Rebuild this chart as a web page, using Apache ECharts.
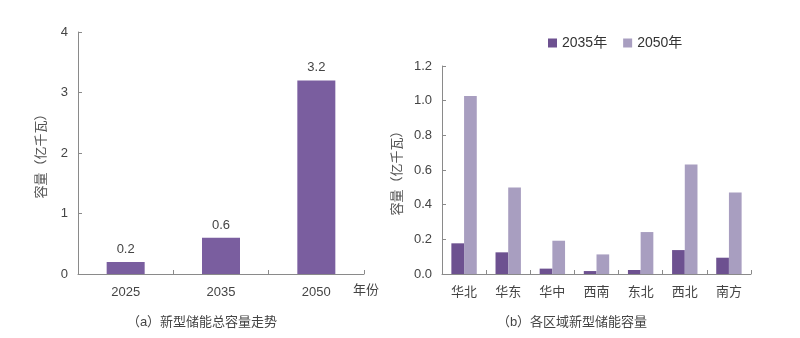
<!DOCTYPE html>
<html><head><meta charset="utf-8">
<script src="https://cdn.jsdelivr.net/npm/echarts@6/dist/echarts.min.js"></script>
<style>html,body{margin:0;padding:0;background:#fff}#c{width:800px;height:338px}</style>
</head><body><div id="c"></div>
<script>
const yearsA = ['2025', '2035', '2050'];
const totalA = [0.2, 0.6, 3.2];
const regionsB = ['华北', '华东', '华中', '西南', '东北', '西北', '南方'];
const s2035 = [0.177, 0.125, 0.031, 0.017, 0.023, 0.138, 0.094];
const s2050 = [1.027, 0.499, 0.192, 0.113, 0.242, 0.632, 0.470];
const seriesNames = ['2035年', '2050年'];
const yTitle = '容量（亿千瓦）';
const subA = '（a）新型储能总容量走势';
const subB = '（b）各区域新型储能容量';
const xNameA = '年份';

const FONT = '"Liberation Sans", "Noto Sans CJK SC", sans-serif';
const axisLine = {lineStyle: {color: '#8a8a8a', width: 1}};
const tick = {show: true, inside: true, length: 4, lineStyle: {color: '#8a8a8a'}};
const lbl = {color: '#444', fontSize: 13, fontFamily: FONT};

const chart = echarts.init(document.getElementById('c'), null, {renderer: 'canvas'});
chart.setOption({
  animation: false,
  textStyle: {fontFamily: FONT},
  legend: {
    data: seriesNames, left: 543, top: 31, itemWidth: 9, itemHeight: 9, itemGap: 16,
    icon: 'rect', textStyle: {color: '#333', fontSize: 14, fontFamily: FONT}
  },
  grid: [
    {left: 78, top: 32, width: 286, height: 242},
    {left: 442, top: 66, width: 309, height: 208}
  ],
  xAxis: [
    {type: 'category', gridIndex: 0, data: yearsA, axisLine, axisTick: {...tick},
     axisLabel: {...lbl, margin: 12}},
    {type: 'category', gridIndex: 1, data: regionsB, axisLine, axisTick: {...tick},
     axisLabel: {...lbl, margin: 12}}
  ],
  yAxis: [
    {type: 'value', gridIndex: 0, min: 0, max: 4, interval: 1, axisLine: {show: true, ...axisLine},
     axisTick: tick, splitLine: {show: false}, axisLabel: {...lbl, margin: 10},
     name: yTitle, nameLocation: 'middle', nameGap: 30, nameRotate: 90,
     nameTextStyle: {color: '#555', fontSize: 13, fontFamily: FONT}},
    {type: 'value', gridIndex: 1, min: 0, max: 1.2, interval: 0.2, axisLine: {show: true, ...axisLine},
     axisTick: tick, splitLine: {show: false},
     axisLabel: {...lbl, margin: 10, formatter: v => v.toFixed(1)},
     name: yTitle, nameLocation: 'middle', nameGap: 38, nameRotate: 90,
     nameTextStyle: {color: '#555', fontSize: 13, fontFamily: FONT}}
  ],
  series: [
    {type: 'bar', xAxisIndex: 0, yAxisIndex: 0, data: totalA, barWidth: 38,
     itemStyle: {color: '#7a5e9f'},
     label: {show: true, position: 'top', distance: 6, color: '#444', fontSize: 13, fontFamily: FONT,
             formatter: p => p.value.toFixed(1)}},
    {type: 'bar', name: seriesNames[0], xAxisIndex: 1, yAxisIndex: 1, data: s2035,
     barWidth: 12.7, barGap: '0%', itemStyle: {color: '#6d5190'}},
    {type: 'bar', name: seriesNames[1], xAxisIndex: 1, yAxisIndex: 1, data: s2050,
     barWidth: 12.7, barGap: '0%', itemStyle: {color: '#a89ec0'}}
  ],
  graphic: [
    {type: 'text', left: 353, top: 284, style: {text: xNameA, fill: '#444', font: '13px ' + FONT}},
    {type: 'text', x: 202, y: 322, style: {text: subA, fill: '#444', font: '13px ' + FONT, align: 'center', verticalAlign: 'middle'}},
    {type: 'text', x: 572, y: 322, style: {text: subB, fill: '#444', font: '13px ' + FONT, align: 'center', verticalAlign: 'middle'}}
  ]
});
</script></body></html>
